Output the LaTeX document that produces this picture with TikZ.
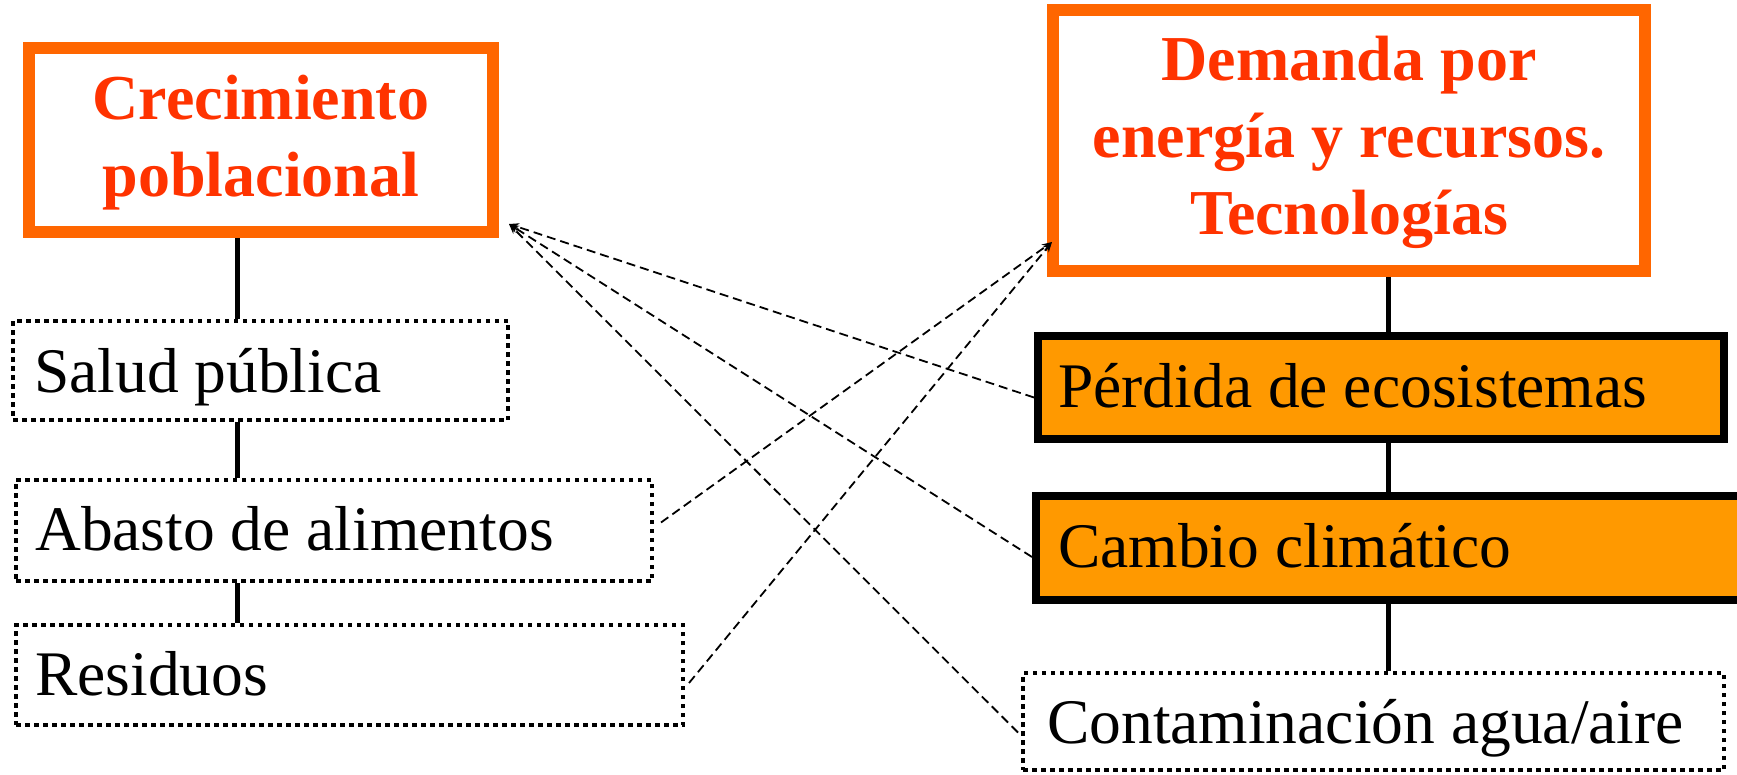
\documentclass[tikz,border=0pt]{standalone}
\usepackage{fontspec}
\setmainfont{Liberation Serif}
\usetikzlibrary{arrows.meta,calc}
\definecolor{borderorange}{HTML}{FF6600}
\definecolor{titlered}{HTML}{FF3300}
\definecolor{fillorange}{HTML}{FF9900}
\tikzset{
  titlebox/.style={draw=borderorange, line width=12pt, fill=white, inner sep=0pt},
  dotbox/.style={draw=black, line width=4pt, dash pattern=on 4.5pt off 4.5pt, inner sep=0pt},
  hotbox/.style={draw=black, line width=8pt, fill=fillorange, inner sep=0pt},
  titletext/.style={font=\fontsize{64}{77}\selectfont\bfseries, text=titlered, align=center, inner sep=0pt, anchor=base},
  bodytext/.style={font=\fontsize{63.5}{77}\selectfont, inner sep=0pt, anchor=base west},
  stem/.style={line width=5pt},
  link/.style={line width=1.8pt, dash pattern=on 9pt off 5pt, -{Stealth[length=10pt,width=8pt]}}
}
\begin{document}
\begin{tikzpicture}[x=1pt,y=-1pt]
\useasboundingbox (0,0) rectangle (1737,775);
% boxes
\node[titlebox, minimum width=464pt, minimum height=184pt] (crec) at (261,140) {};
\node[dotbox, minimum width=495pt, minimum height=99pt] (sal) at (260.5,370.5) {};
\node[dotbox, minimum width=636pt, minimum height=101pt] (aba) at (334,530.5) {};
\node[dotbox, minimum width=667pt, minimum height=100pt] (res) at (349.5,675) {};
\node[titlebox, minimum width=592pt, minimum height=261pt] (dem) at (1349,140.5) {};
\node[hotbox, minimum width=686pt, minimum height=103pt] (per) at (1381,387.5) {};
\node[hotbox, minimum width=706pt, minimum height=104pt] (cam) at (1389,548) {};
\node[dotbox, minimum width=701pt, minimum height=97pt] (con) at (1373.5,721.5) {};
% texts (base anchor = last line)
\node[titletext] (crectxt) at (261,197) {Crecimiento\\poblacional};
\node[titletext] (demtxt) at (1349,235) {Demanda por\\energía y recursos.\\Tecnologías};
\node[bodytext] (saltxt) at (34,392) {Salud pública};
\node[bodytext] (abatxt) at (35,550) {Abasto de alimentos};
\node[bodytext] (restxt) at (35,695) {Residuos};
\node[bodytext] (pertxt) at (1058,407) {Pérdida de ecosistemas};
\node[bodytext] (camtxt) at (1058,567) {Cambio climático};
\node[bodytext] (contxt) at (1047,743) {Contaminación agua/aire};
% stems
\coordinate (lx) at (237.5,0);
\coordinate (rx) at (1388,0);
\draw[stem] (lx |- crec.south) -- (lx |- sal.north);
\draw[stem] (lx |- sal.south) -- (lx |- aba.north);
\draw[stem] (lx |- aba.south) -- (lx |- res.north);
\draw[stem] (rx |- dem.south) -- (rx |- per.north);
\draw[stem] (rx |- per.south) -- (rx |- cam.north);
\draw[stem] (rx |- cam.south) -- (rx |- con.north);
% dashed links
\coordinate (ctip) at ([shift={(10pt,14pt)}]crec.south east);
\coordinate (dtip) at (1052,242);
\draw[link] ([yshift=-10pt]per.west) -- (ctip);
\draw[link] ([yshift=-9pt]cam.west) -- (ctip);
\draw[link] ([shift={(-3pt,-11pt)}]con.west) -- (ctip);
\draw[link] ([shift={(7pt,8pt)}]aba.east) -- (dtip);
\draw[link] ([shift={(4pt,-8pt)}]res.east) -- (dtip);
\end{tikzpicture}
\end{document}
